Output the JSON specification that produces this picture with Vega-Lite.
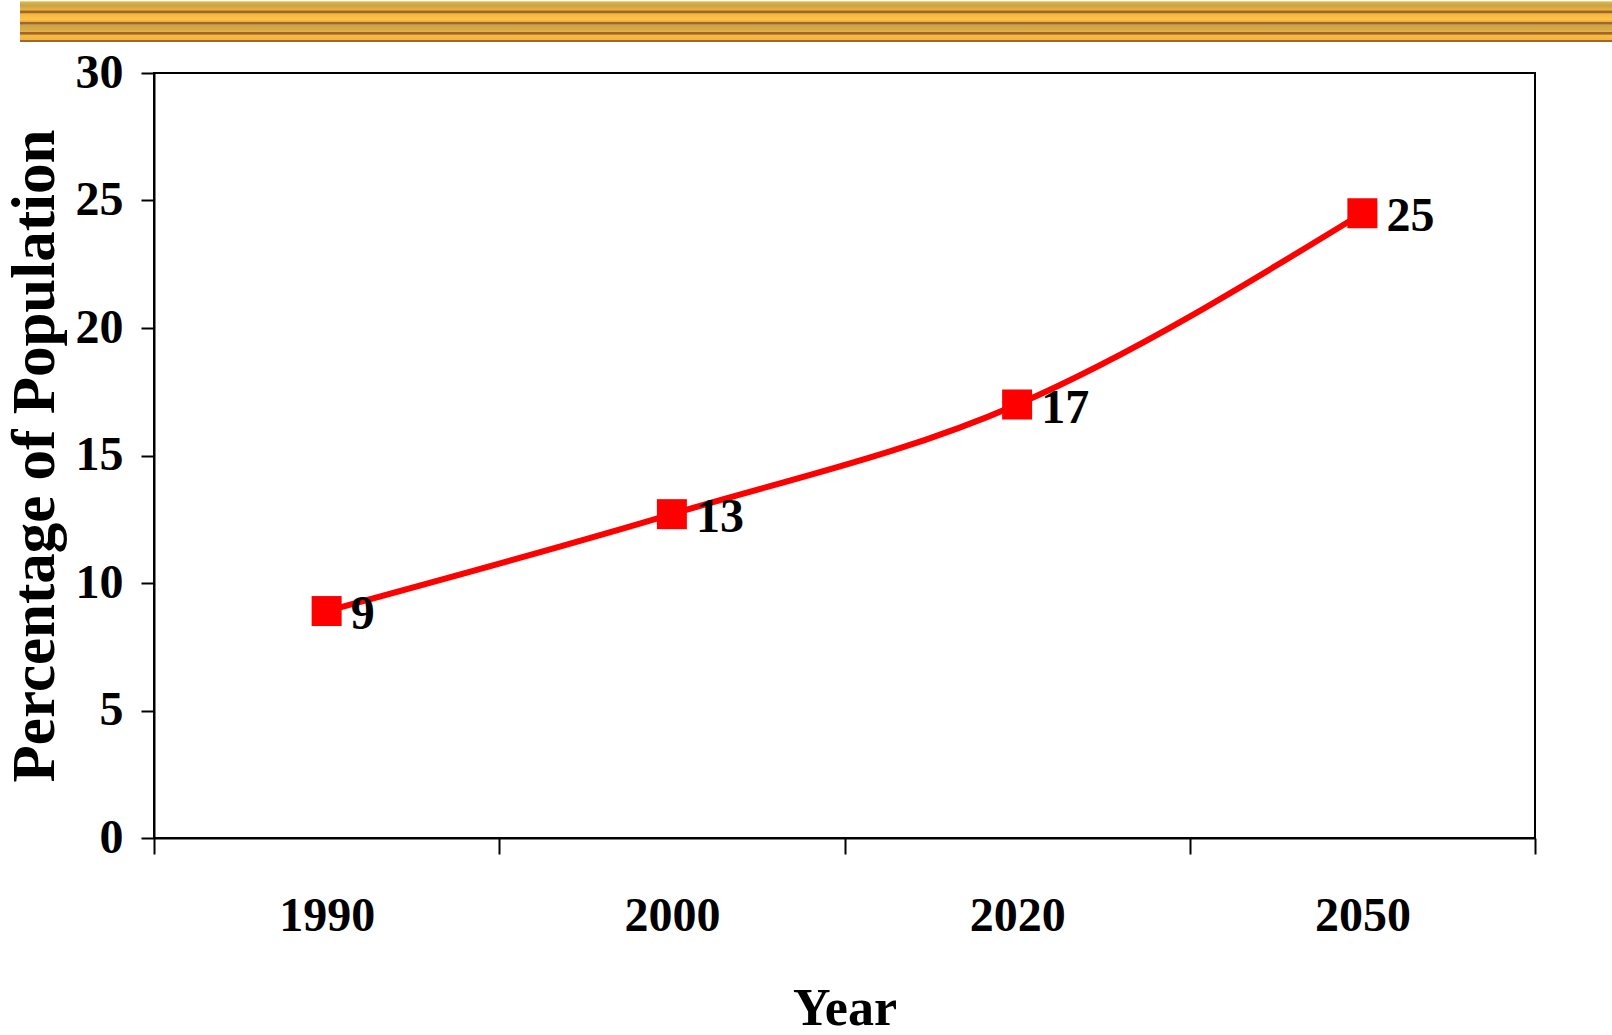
{
  "$schema": "https://vega.github.io/schema/vega-lite/v6.json",
  "padding": {"left": 3, "top": 1, "right": 0, "bottom": 0},
  "background": "white",
  "spacing": 6,
  "config": {
    "font": "Liberation Serif",
    "axis": {
      "grid": false,
      "domainColor": "black",
      "domainWidth": 2,
      "tickColor": "black",
      "tickWidth": 2,
      "labelFont": "Liberation Serif",
      "labelFontWeight": "bold",
      "labelFontSize": 48,
      "labelColor": "black",
      "titleFont": "Liberation Serif",
      "titleFontWeight": "bold",
      "titleColor": "black"
    }
  },
  "vconcat": [
    {
      "width": 1592,
      "height": 41,
      "view": {"stroke": null},
      "data": {"values": [{"part": "banner"}]},
      "mark": {
        "type": "rect",
        "fill": {
          "gradient": "linear",
          "x1": 0, "y1": 0, "x2": 0, "y2": 1,
          "stops": [
            {"offset": 0, "color": "#FFE08A"},
            {"offset": 0.04, "color": "#D9AE4A"},
            {"offset": 0.12, "color": "#C9A348"},
            {"offset": 0.22, "color": "#EDB43C"},
            {"offset": 0.245, "color": "#A2652E"},
            {"offset": 0.29, "color": "#A2652E"},
            {"offset": 0.31, "color": "#F4B73D"},
            {"offset": 0.45, "color": "#FFC24A"},
            {"offset": 0.5, "color": "#E9B040"},
            {"offset": 0.52, "color": "#A2652E"},
            {"offset": 0.56, "color": "#A2652E"},
            {"offset": 0.58, "color": "#C9A54A"},
            {"offset": 0.7, "color": "#D7AA45"},
            {"offset": 0.75, "color": "#EBB142"},
            {"offset": 0.765, "color": "#A2652E"},
            {"offset": 0.81, "color": "#A2652E"},
            {"offset": 0.83, "color": "#F8BB42"},
            {"offset": 0.94, "color": "#F2B640"},
            {"offset": 0.96, "color": "#A2652E"},
            {"offset": 1, "color": "#A2652E"}
          ]
        }
      },
      "encoding": {}
    },
    {
      "spacing": -18,
      "hconcat": [
        {
          "width": 1,
          "height": 765,
          "view": {"stroke": null},
          "data": {"values": []},
          "mark": "point",
          "encoding": {}
        },
        {
          "width": 1381,
          "height": 765,
          "view": {"stroke": "black", "strokeWidth": 2},
          "data": {
            "values": [
              {"year": "1990", "value": 8.9},
              {"year": "2000", "value": 12.7},
              {"year": "2020", "value": 17.0},
              {"year": "2050", "value": 24.5}
            ]
          },
          "encoding": {
            "x": {
              "field": "year",
              "type": "ordinal",
              "scale": {"type": "band", "paddingInner": 0, "paddingOuter": 0},
              "axis": {
                "title": "Year",
                "titleFontSize": 52,
                "titlePadding": 43,
                "labelAngle": 0,
                "tickBand": "extent",
                "tickSize": 16,
                "labelPadding": 38,
                "labelBaseline": "top"
              }
            },
            "y": {
              "field": "value",
              "type": "quantitative",
              "scale": {"domain": [0, 30], "nice": false},
              "axis": {
                "title": "Percentage of Population",
                "titleFontSize": 61,
                "titlePadding": 8.5,
                "values": [0, 5, 10, 15, 20, 25, 30],
                "tickSize": 13,
                "labelPadding": 18
              }
            }
          },
          "layer": [
            {
              "mark": {"type": "line", "color": "#FF0000", "strokeWidth": 6, "interpolate": "monotone"}
            },
            {
              "mark": {"type": "point", "shape": "square", "filled": true, "color": "#FF0000", "size": 900, "opacity": 1}
            },
            {
              "mark": {"type": "text", "align": "left", "baseline": "middle", "dx": 24, "dy": 4, "fontSize": 48, "fontWeight": "bold", "font": "Liberation Serif", "color": "black"},
              "encoding": {"text": {"field": "value", "type": "quantitative", "format": ".0f"}}
            }
          ]
        }
      ]
    }
  ]
}
